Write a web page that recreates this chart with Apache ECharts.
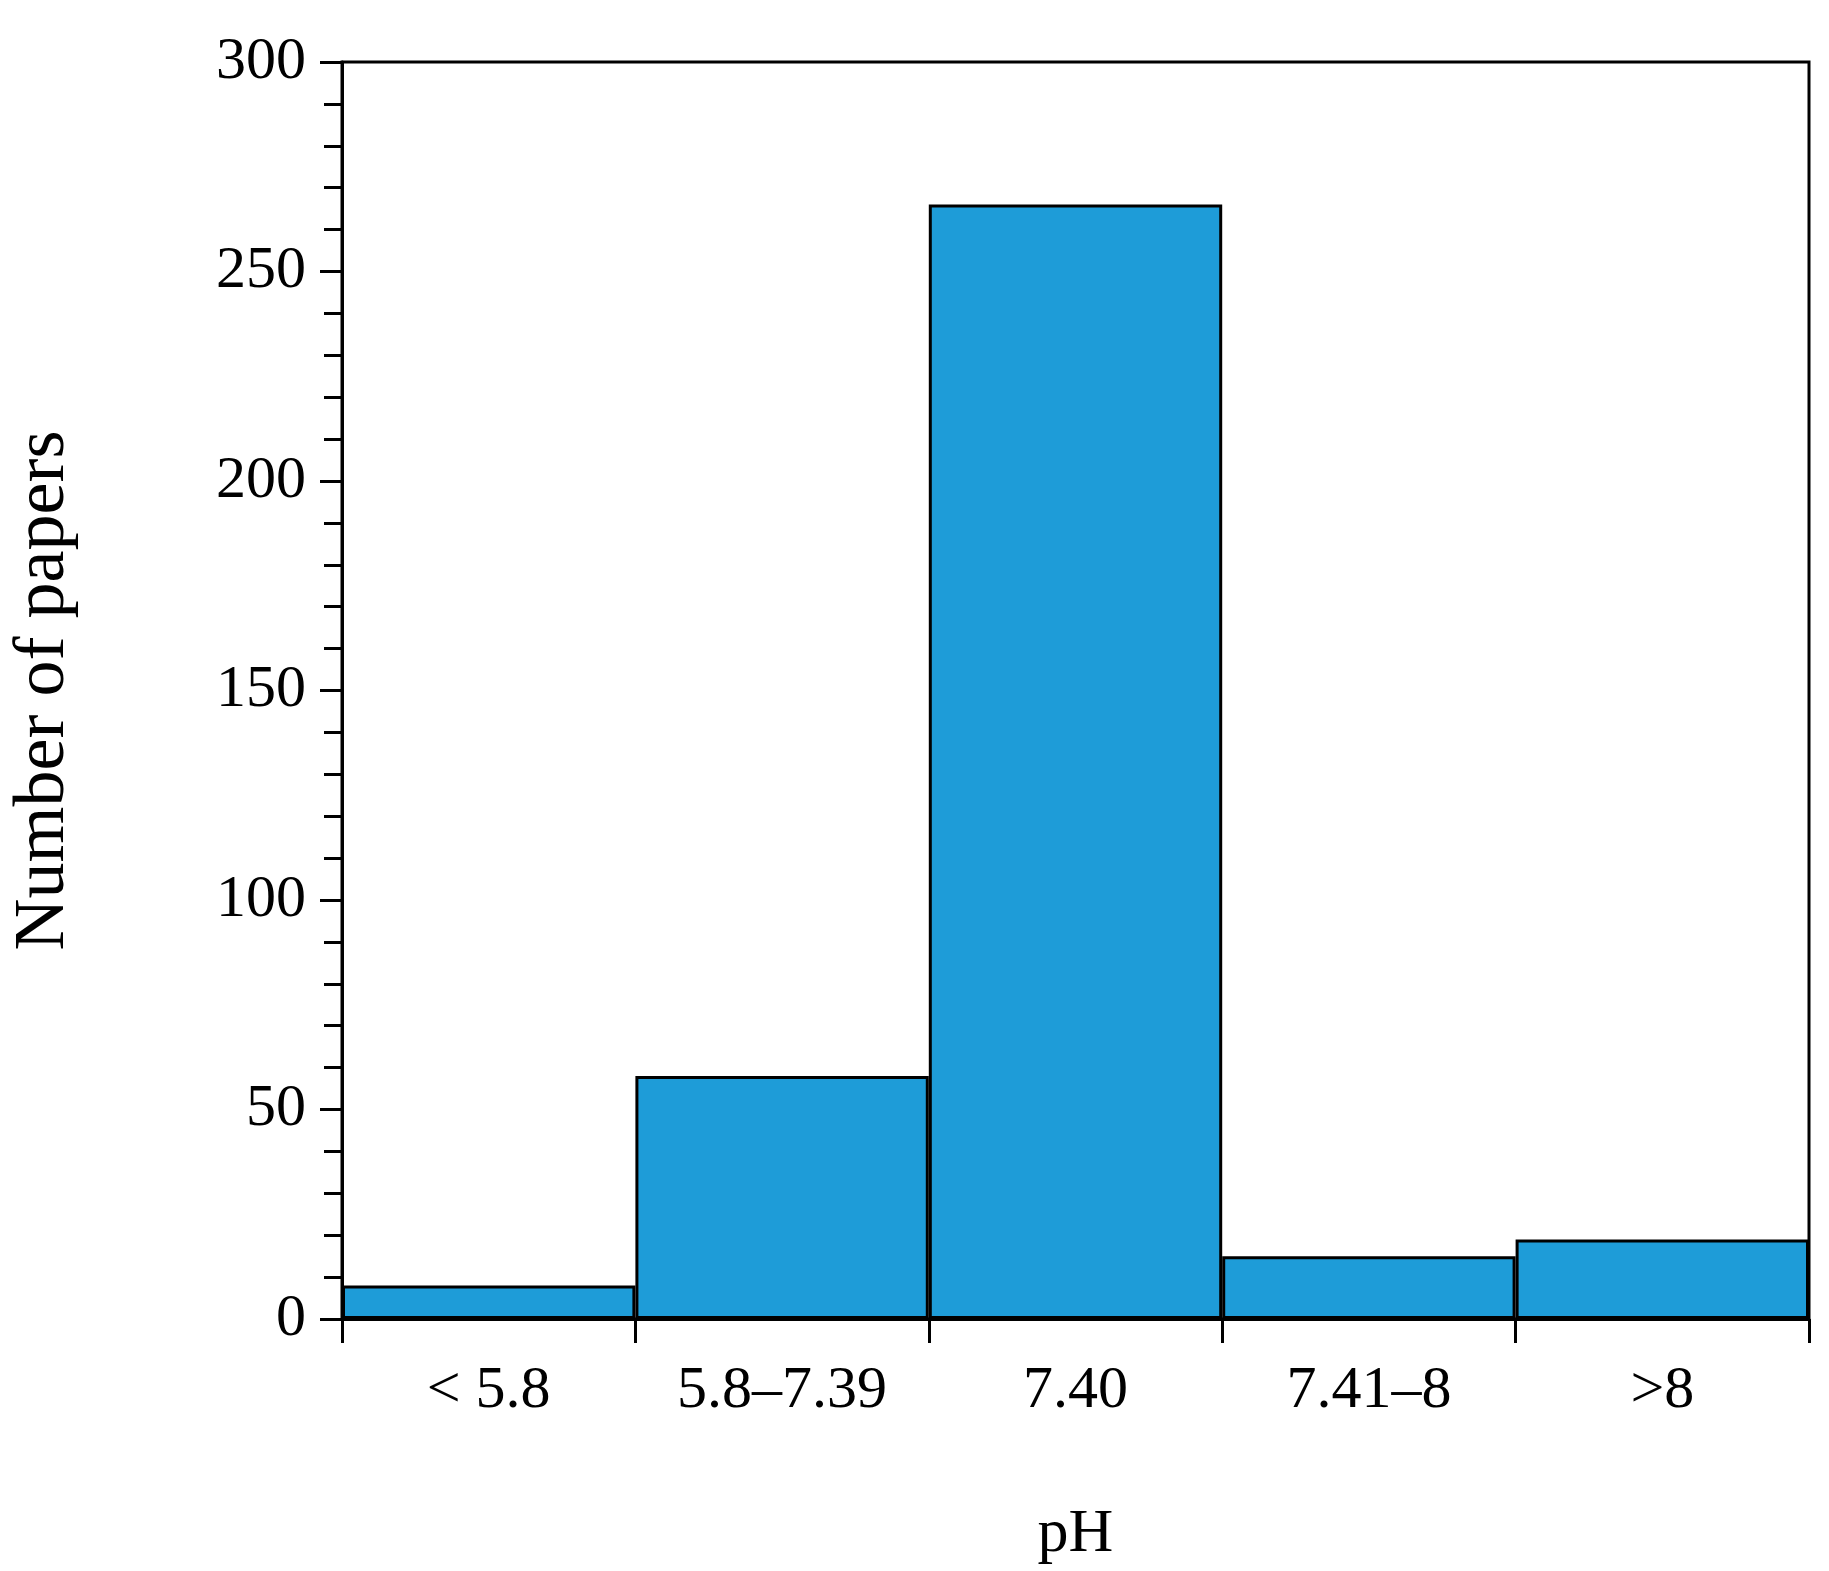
<!DOCTYPE html>
<html><head><meta charset="utf-8">
<script src="https://cdn.jsdelivr.net/npm/echarts@6/dist/echarts.min.js"></script>
<style>html,body{margin:0;padding:0;background:#fff}#c{width:1829px;height:1571px}</style>
</head><body><div id="c"></div>
<script>
const categories = ['< 5.8', '5.8\u20137.39', '7.40', '7.41\u20138', '>8'];
const papers = [8, 58, 266, 15, 19];
const font = '"Liberation Serif", "Times New Roman", serif';
const chart = echarts.init(document.getElementById('c'));
chart.setOption({
  animation: false,
  grid: {left: 338, right: 20, top: 62, bottom: 239, show: true, borderColor: '#000', borderWidth: 3, backgroundColor: '#fff'},
  xAxis: {
    type: 'category', data: categories, boundaryGap: true,
    name: 'pH', nameLocation: 'middle', nameGap: 185,
    nameTextStyle: {fontFamily: font, fontSize: 62, color: '#000'},
    axisLine: {lineStyle: {color: '#000', width: 3}},
    axisTick: {show: true, alignWithLabel: false, length: 24, lineStyle: {color: '#000', width: 3}},
    axisLabel: {fontFamily: font, fontSize: 60, color: '#000', margin: 42},
    splitLine: {show: false}
  },
  yAxis: {
    type: 'value', min: 0, max: 300, interval: 50,
    name: 'Number of papers', nameLocation: 'middle', nameGap: 262,
    nameTextStyle: {fontFamily: font, fontSize: 72, color: '#000'},
    axisLine: {show: true, lineStyle: {color: '#000', width: 3}},
    axisTick: {show: true, length: 22, lineStyle: {color: '#000', width: 3}},
    minorTick: {show: true, splitNumber: 5, length: 18, lineStyle: {color: '#000', width: 3}},
    axisLabel: {fontFamily: font, fontSize: 60, color: '#000', margin: 36},
    splitLine: {show: false}
  },
  series: [{
    type: 'bar', data: papers, barWidth: '100%', barCategoryGap: '0%',
    itemStyle: {color: '#1e9cd8', borderColor: '#000', borderWidth: 3}
  }]
});
</script></body></html>
